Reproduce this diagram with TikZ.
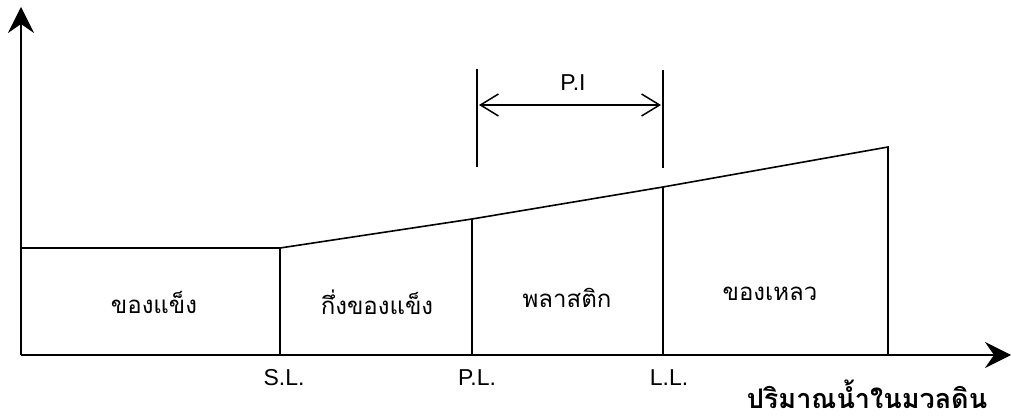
\documentclass[tikz,border=0pt]{standalone}
\usepackage{fontspec}
\setmainfont{Liberation Sans}
\newfontfamily\thaifont[Script=Thai]{Loma}
\usetikzlibrary{arrows.meta}
\begin{document}
\begin{tikzpicture}[x=1pt,y=-1pt,
  axis/.style={line width=2.6pt,-{Stealth[length=26pt,width=26pt,inset=9pt]}},
  yaxis/.style={line width=2pt,-{Stealth[length=26pt,width=26pt,inset=9pt]}},
  edge/.style={line width=1.6pt},
  bound/.style={line width=2.6pt},
  dimline/.style={line width=1.3pt},
  dimarrow/.style={line width=1.5pt,{Straight Barb[length=18pt,width=22pt,line width=1.5pt]}-{Straight Barb[length=18pt,width=22pt,line width=1.5pt]}},
  zone/.style={font=\thaifont\fontsize{24}{27}\selectfont,inner sep=0pt},
  limit/.style={font=\fontsize{23}{26}\selectfont,inner sep=0pt}]
\useasboundingbox (0,0) rectangle (1011,419);
\fill[white] (0,0) rectangle (1011,419);
% key points
\coordinate (O) at (21,355);
\coordinate (Ytip) at (21,7);
\coordinate (Xtip) at (1011,355);
\coordinate (A) at (21,248);
\coordinate (SLt) at (280,248);
\coordinate (SLb) at (280,355);
\coordinate (PLt) at (472,219);
\coordinate (PLb) at (472,355);
\coordinate (LLt) at (663,187);
\coordinate (LLb) at (663,355);
\coordinate (Et) at (888,147);
\coordinate (Eb) at (888,355);
\coordinate (D1t) at (477,69);
\coordinate (D1b) at (477,167);
\coordinate (D2t) at (663,70);
\coordinate (D2b) at (663,168);
\coordinate (D1m) at (479,105);
\coordinate (D2m) at (661,105);
% outline of the states
\draw[edge] (A) -- (SLt);
\draw[edge] (SLt) -- (PLt) -- (LLt) -- (Et) -- (Eb);
\draw[line width=2.2pt] (SLt) -- (SLb);
\draw[bound] (PLt) -- (PLb);
\draw[line width=2pt] (LLt) -- (LLb);
\draw[edge] (A) -- (O);
% axes
\draw[yaxis] (O) -- (Ytip);
\draw[axis] (O) -- (Xtip);
% plasticity index
\draw[dimline] (D1t) -- (D1b);
\draw[dimline] (D2t) -- (D2b);
\draw[dimarrow] (D1m) -- (D2m);
\node[limit] (PI) at (573,83) {P.I};
% zone labels
\node[zone] (solid) at (154,302) {ของแข็ง};
\node[zone] (semisolid) at (377,302) {กึ่งของแข็ง};
\node[zone] (plastic) at (567,298) {พลาสติก};
\node[zone] (liquid) at (770,294) {ของเหลว};
% limits
\node[limit] (SL) at (284,378) {S.L.};
\node[limit] (PL) at (477,378) {P.L.};
\node[limit] (LL) at (669,378) {L.L.};
% axis title
\node[font=\thaifont\bfseries\fontsize{27}{30}\selectfont,inner sep=0pt,text depth=0pt,anchor=base] (xt) at (867,408) {ปริมาณน้ำในมวลดิน};
\end{tikzpicture}
\end{document}
